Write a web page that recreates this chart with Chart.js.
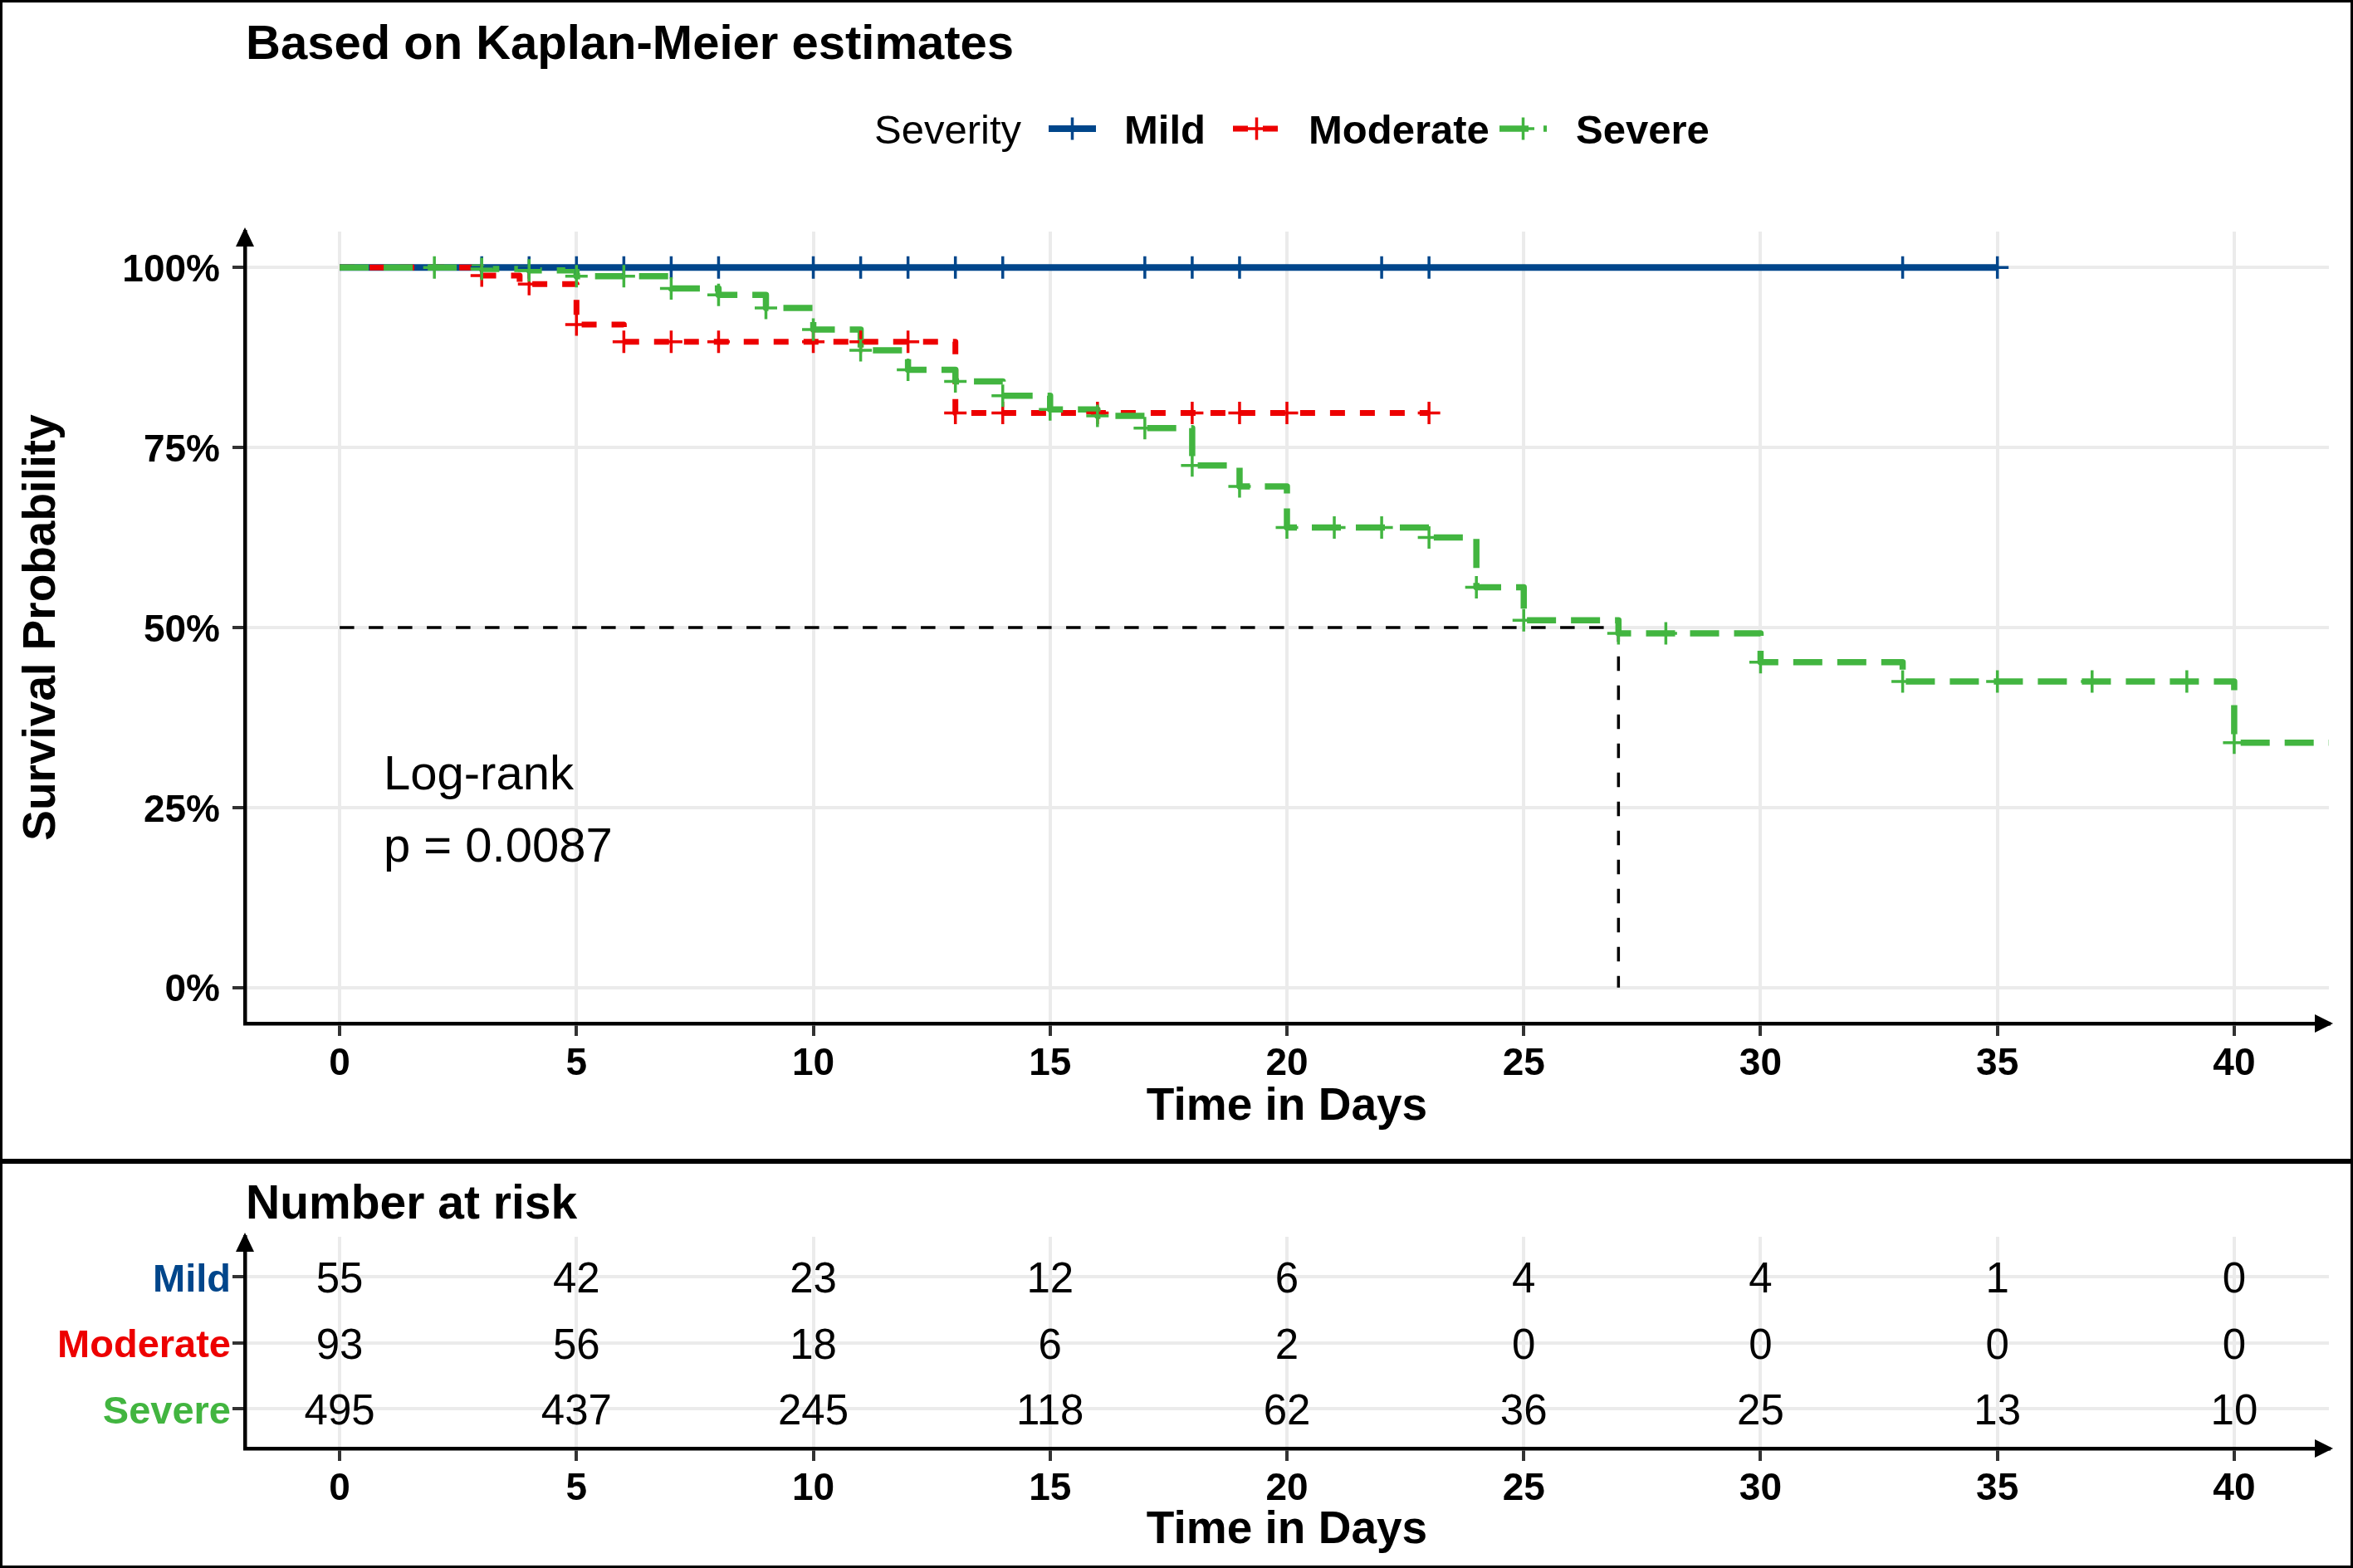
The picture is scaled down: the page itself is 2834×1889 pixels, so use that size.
<!DOCTYPE html>
<html><head><meta charset="utf-8">
<script src="https://cdn.jsdelivr.net/npm/chart.js@4.4.1/dist/chart.umd.min.js"></script>
<style>
html,body{margin:0;padding:0;background:#fff;}
body{width:2834px;height:1889px;position:relative;overflow:hidden;}
canvas{position:absolute;left:0;}
#c1{top:0;} #c2{top:1397px;}
.frame{position:absolute;left:0;box-sizing:border-box;border:3px solid #000;width:2834px;pointer-events:none;}
</style></head><body>
<canvas id="c1" width="2834" height="1397"></canvas>
<canvas id="c2" width="2834" height="492"></canvas>
<div class="frame" style="top:0;height:1399px"></div>
<div class="frame" style="top:1399px;height:490px"></div>
<script>
// ---------- data ----------
const groups = ['Mild', 'Moderate', 'Severe'];
const timeTicks = [0, 5, 10, 15, 20, 25, 30, 35, 40];
const survTicks = [0, 0.25, 0.5, 0.75, 1];
const survTickLabels = ['0%', '25%', '50%', '75%', '100%'];

const mildTimes = [0, 35];
const mildSurv  = [1, 1];
const mildCensor = [3, 4, 5, 6, 7, 8, 10, 11, 12, 13, 14, 17, 18, 19, 22, 23, 33, 35];

const modTimes = [0, 2.8, 3.8, 5, 6, 13, 23];
const modSurv  = [1, 0.989, 0.977, 0.921, 0.897, 0.798, 0.798];
const modCensor = [3, 4, 5, 6, 7, 8, 10, 11, 12, 13, 14, 16, 18, 19, 20, 23];

const sevTimes = [0, 3, 4, 5, 7, 8, 9, 10, 11, 12, 13, 14, 15, 16, 17, 18, 19, 20, 23, 24, 25, 27, 30, 33, 40, 42];
const sevSurv  = [1, 0.998, 0.996, 0.988, 0.971, 0.962, 0.944, 0.914, 0.885, 0.858, 0.842, 0.822, 0.803, 0.794, 0.777, 0.725, 0.696, 0.639, 0.625, 0.556, 0.510, 0.492, 0.452, 0.425, 0.340, 0.340];
const sevCensor = [2, 3, 4, 5, 6, 7, 8, 9, 10, 11, 12, 13, 14, 15, 16, 17, 18, 19, 20, 21, 22, 23, 24, 25, 27, 28, 30, 33, 35, 37, 39, 40];

const medianTimes = [0, 27, 27];
const medianSurv  = [0.5, 0.5, 0];

const riskTimes = [0, 5, 10, 15, 20, 25, 30, 35, 40];
const riskMild     = [55, 42, 23, 12, 6, 4, 4, 1, 0];
const riskModerate = [93, 56, 18, 6, 2, 0, 0, 0, 0];
const riskSevere   = [495, 437, 245, 118, 62, 36, 25, 13, 10];

const pValueText = ['Log-rank', 'p = 0.0087'];

// ---------- styles ----------
const FONT = "'Liberation Sans', Arial, Helvetica, sans-serif";
const COLORS = { Mild: '#00468B', Moderate: '#ED0000', Severe: '#42B540' };
const DASH = { Mild: [], Moderate: [18, 18], Severe: [35, 18] };
const LW = { Mild: 8, Moderate: 7, Severe: 7.5 };
const GRID = '#EBEBEB';

Chart.defaults.font.family = FONT;
Chart.defaults.color = '#000';

function stepValue(times, surv, t) {
  let v = surv[0];
  for (let i = 0; i < times.length; i++) if (times[i] <= t) v = surv[i];
  return v;
}
const pts = (xs, ys) => xs.map((x, i) => ({ x: x, y: ys[i] }));
const censorPts = (c, times, surv) => c.map(t => ({ x: t, y: stepValue(times, surv, t) }));

function curve(name, times, surv, order) {
  return { type: 'line', label: name, data: pts(times, surv), stepped: true, borderColor: COLORS[name],
    borderWidth: LW[name], borderDash: DASH[name], borderJoinStyle: 'round', pointRadius: 0, fill: false, order: order };
}
function marks(name, c, times, surv, order) {
  return { type: 'line', label: name + ' censor', data: censorPts(c, times, surv), showLine: false,
    pointStyle: 'cross', pointRadius: 13.5, pointBorderWidth: 3.5, pointBorderColor: COLORS[name],
    pointBackgroundColor: COLORS[name], order: order };
}

const arrows = {
  id: 'arrows',
  afterDraw(chart) {
    const { ctx, chartArea: a } = chart;
    ctx.save();
    ctx.fillStyle = '#000';
    ctx.beginPath();
    ctx.moveTo(a.left, a.top - 5); ctx.lineTo(a.left - 11, a.top + 18); ctx.lineTo(a.left + 11, a.top + 18);
    ctx.closePath(); ctx.fill();
    ctx.beginPath();
    ctx.moveTo(a.right + 5, a.bottom); ctx.lineTo(a.right - 17, a.bottom - 11); ctx.lineTo(a.right - 17, a.bottom + 11);
    ctx.closePath(); ctx.fill();
    ctx.restore();
  }
};

const legendPos = { titleX: 1053, keyX: [1263, 1485, 1806], labelX: [1354, 1576, 1898], y: 155, keyLen: 57 };

const mainText = {
  id: 'mainText',
  afterDraw(chart) {
    const ctx = chart.ctx;
    ctx.save();
    ctx.fillStyle = '#000';
    ctx.textAlign = 'left';
    ctx.textBaseline = 'alphabetic';
    ctx.font = `bold 58px ${FONT}`;
    ctx.fillText('Based on Kaplan-Meier estimates', 296, 71);
    // legend
    ctx.font = `49px ${FONT}`;
    ctx.fillText('Severity', legendPos.titleX, legendPos.y + 18);
    groups.forEach((g, i) => {
      const x0 = legendPos.keyX[i], y = legendPos.y;
      ctx.strokeStyle = COLORS[g];
      ctx.lineWidth = LW[g];
      ctx.setLineDash(DASH[g]);
      ctx.beginPath(); ctx.moveTo(x0, y); ctx.lineTo(x0 + legendPos.keyLen, y); ctx.stroke();
      ctx.setLineDash([]);
      ctx.lineWidth = 3.5;
      const cx = x0 + legendPos.keyLen / 2;
      ctx.beginPath();
      ctx.moveTo(cx, y - 13.5); ctx.lineTo(cx, y + 13.5);
      ctx.moveTo(cx - 13.5, y); ctx.lineTo(cx + 13.5, y);
      ctx.stroke();
      ctx.font = `bold 49px ${FONT}`;
      ctx.fillStyle = '#000';
      ctx.fillText(g, legendPos.labelX[i], y + 18);
    });
    // p-value
    ctx.font = `58px ${FONT}`;
    ctx.fillText(pValueText[0], 462, 951);
    ctx.fillText(pValueText[1], 462, 1038);
    ctx.restore();
  }
};

const common = {
  responsive: false, animation: false, devicePixelRatio: 1, events: [],
  plugins: { legend: { display: false }, title: { display: false }, tooltip: { enabled: false } }
};

function xScale(titlePadBottom, height, tickPad) {
  return {
    type: 'linear', min: -2, max: 42,
    afterBuildTicks: s => { s.ticks = timeTicks.map(v => ({ value: v })); },
    afterFit: s => { s.height = height; },
    grid: { color: GRID, lineWidth: 4, tickColor: '#333', tickWidth: 4, tickLength: 15 },
    border: { display: true, color: '#000', width: 4.5 },
    ticks: { font: { size: 46, weight: 'bold' }, color: '#000', padding: tickPad, maxRotation: 0, autoSkip: false,
      callback: v => String(v) },
    title: { display: true, text: 'Time in Days', font: { size: 55, weight: 'bold' }, color: '#000',
      padding: { top: 0, bottom: titlePadBottom } }
  };
}

// ---------- main chart ----------
new Chart(document.getElementById('c1'), {
  type: 'line',
  data: {
    datasets: [
      curve('Mild', mildTimes, mildSurv, 9),
      curve('Moderate', modTimes, modSurv, 8),
      curve('Severe', sevTimes, sevSurv, 7),
      { type: 'line', label: 'median', data: pts(medianTimes, medianSurv), borderColor: '#000', borderWidth: 3.5,
        borderDash: [17.5, 17.5], pointRadius: 0, fill: false, order: 10 },
      marks('Mild', mildCensor, mildTimes, mildSurv, 5),
      marks('Moderate', modCensor, modTimes, modSurv, 4),
      marks('Severe', sevCensor, sevTimes, sevSurv, 3)
    ]
  },
  options: Object.assign({}, common, {
    layout: { padding: { left: 0, top: 279, right: 29, bottom: 0 }, autoPadding: false },
    scales: {
      x: xScale(30, 164, 7),
      y: {
        type: 'linear', min: -0.05, max: 1.05,
        afterBuildTicks: s => { s.ticks = survTicks.map(v => ({ value: v })); },
        afterFit: s => { s.width = 295; },
        grid: { color: GRID, lineWidth: 4, tickColor: '#333', tickWidth: 4, tickLength: 15 },
        border: { display: true, color: '#000', width: 4.5 },
        ticks: { font: { size: 46, weight: 'bold' }, color: '#000', padding: 15, labelOffset: 4,
          callback: (v, i) => survTickLabels[survTicks.indexOf(v)] },
        title: { display: true, text: 'Survival Probability', font: { size: 55, weight: 'bold' }, color: '#000',
          padding: { top: 18, bottom: 0 } }
      }
    }
  }),
  plugins: [arrows, mainText]
});

// ---------- risk table ----------
const riskRows = { Mild: 3, Moderate: 2, Severe: 1 };
const riskRowTicks = [1, 2, 3];
const riskRowLabels = ['Severe', 'Moderate', 'Mild'];
const riskCounts = { Mild: riskMild, Moderate: riskModerate, Severe: riskSevere };

const riskText = {
  id: 'riskText',
  afterDatasetsDraw(chart) {
    const ctx = chart.ctx;
    ctx.save();
    ctx.fillStyle = '#000';
    ctx.font = `51px ${FONT}`;
    ctx.textAlign = 'center';
    ctx.textBaseline = 'middle';
    chart.data.datasets.forEach((ds, di) => {
      chart.getDatasetMeta(di).data.forEach((el, i) => {
        ctx.fillText(String(ds.data[i].n), el.x, el.y + 5);
      });
    });
    ctx.font = `bold 57px ${FONT}`;
    ctx.textAlign = 'left';
    ctx.textBaseline = 'alphabetic';
    ctx.fillText('Number at risk', 296, 71);
    ctx.restore();
  }
};

new Chart(document.getElementById('c2'), {
  type: 'line',
  data: {
    datasets: groups.map(g => ({
      label: g, showLine: false, pointRadius: 0,
      data: riskTimes.map((t, i) => ({ x: t, y: riskRows[g], n: riskCounts[g][i] }))
    }))
  },
  options: Object.assign({}, common, {
    layout: { padding: { left: 0, top: 93, right: 29, bottom: 0 }, autoPadding: false },
    scales: {
      x: xScale(12, 144, 7),
      y: {
        type: 'linear', min: 0.4, max: 3.6,
        afterBuildTicks: s => { s.ticks = riskRowTicks.map(v => ({ value: v })); },
        afterFit: s => { s.width = 295; },
        grid: { color: GRID, lineWidth: 4, tickColor: '#333', tickWidth: 4, tickLength: 15 },
        border: { display: true, color: '#000', width: 4.5 },
        ticks: { font: { size: 47, weight: 'bold' }, padding: 2, labelOffset: 5,
          color: c => COLORS[riskRowLabels[riskRowTicks.indexOf(c.tick ? c.tick.value : 1)]],
          callback: v => riskRowLabels[riskRowTicks.indexOf(v)] }
      }
    }
  }),
  plugins: [arrows, riskText]
});
</script>
</body></html>
